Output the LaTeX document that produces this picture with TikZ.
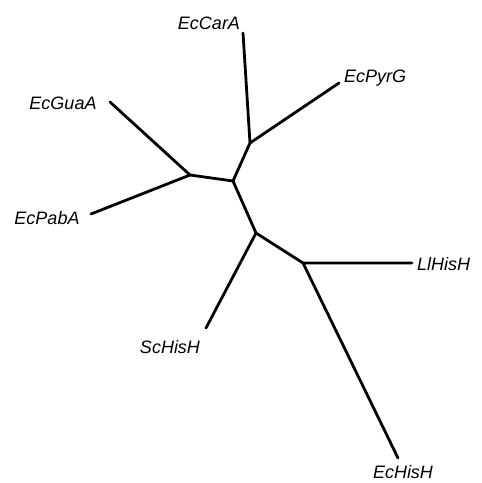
\documentclass[tikz,border=0pt]{standalone}
\usepackage{fontspec}
\setmainfont{Liberation Sans}
\begin{document}
\begin{tikzpicture}[x=1pt,y=-1pt,
  branch/.style={line width=2.8pt,line cap=round,line join=round},
  leaf/.style={inner sep=0pt,font=\fontsize{18}{20}\selectfont\itshape}]
\useasboundingbox (0,0) rectangle (482,483);
% internal nodes
\coordinate (A) at (250,143);
\coordinate (B) at (233,181);
\coordinate (C) at (190,175);
\coordinate (D) at (256,233);
\coordinate (E) at (303,263);
% leaf tips
\coordinate (tCarA) at (243,33);
\coordinate (tPyrG) at (339,83);
\coordinate (tGuaA) at (110,102);
\coordinate (tPabA) at (91,214);
\coordinate (tLl) at (412,263);
\coordinate (tSc) at (206,328);
\coordinate (tEcH) at (398,458);
% labels
\node[leaf] (lCarA) at (209,23) {EcCarA};
\node[leaf,anchor=west] (lPyrG) at (344,78) {EcPyrG};
\node[leaf] (lGuaA) at (63,103) {EcGuaA};
\node[leaf] (lPabA) at (47,218) {EcPabA};
\node[leaf,anchor=west] (lLl) at (417,264) {LlHisH};
\node[leaf] (lSc) at (170,347) {ScHisH};
\node[leaf] (lEcH) at (403,472) {EcHisH};
% branches
\draw[branch] (tCarA) -- (A) -- (tPyrG);
\draw[branch] (A) -- (B) -- (C);
\draw[branch] (tGuaA) -- (C) -- (tPabA);
\draw[branch] (B) -- (D) -- (E);
\draw[branch] (D) -- (tSc);
\draw[branch] (tLl) -- (E) -- (tEcH);
\end{tikzpicture}
\end{document}
